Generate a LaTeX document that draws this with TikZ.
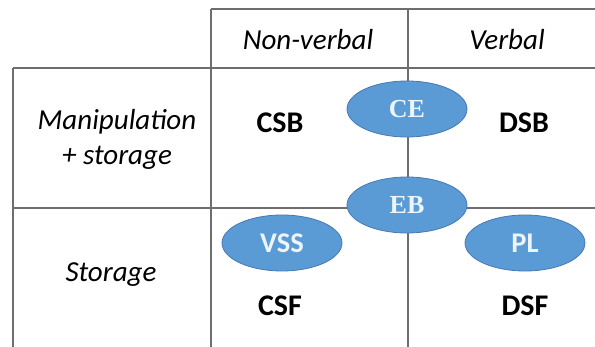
\documentclass[tikz,border=0pt]{standalone}
\usepackage{fontspec}
\setmainfont{Carlito}
\newfontfamily\ellserif{Liberation Serif}
\usetikzlibrary{shapes.geometric}
\definecolor{gridgray}{RGB}{110,110,110}
\definecolor{ellfill}{RGB}{91,155,213}
\definecolor{elldraw}{RGB}{70,120,180}
\definecolor{elltext}{RGB}{236,244,252}
\tikzset{
  gridline/.style={draw=gridgray, line width=1.6pt},
  hdr/.style={inner sep=0pt, font=\fontsize{29}{31}\selectfont\itshape},
  cell/.style={inner sep=0pt, font=\fontsize{30}{32}\selectfont\bfseries},
  comp/.style={ellipse, fill=ellfill, draw=elldraw, line width=0.8pt, inner sep=0pt,
    text=elltext, minimum width=120pt, minimum height=56pt},
  compserif/.style={comp, font=\ellserif\fontsize{26}{28}\selectfont\bfseries},
  compsans/.style={comp, font=\fontsize{28.5}{30}\selectfont\bfseries}
}
\begin{document}
\begin{tikzpicture}[x=1pt,y=-1pt]
\useasboundingbox[fill=white] (0,0) rectangle (595,347);
% grid coordinates
\coordinate (tl) at (211,9);
\coordinate (tr) at (595,9);
\coordinate (r1l) at (13,68);
\coordinate (r1r) at (595,68);
\coordinate (r2l) at (13,208);
\coordinate (r2r) at (595,208);
\coordinate (lb) at (13,347);
\coordinate (c1b) at (211,347);
\coordinate (c2t) at (408,9);
\coordinate (c2b) at (408,347);
% grid lines
\draw[gridline] (tl) -- (tr);
\draw[gridline] (r1l) -- (r1r);
\draw[gridline] (r2l) -- (r2r);
\draw[gridline] (r1l) -- (lb);
\draw[gridline] (tl) -- (c1b);
\draw[gridline] (c2t) -- (c2b);
% headers
\node[hdr] (nonverbal) at (308,40) {Non-verbal};
\node[hdr] (verbal) at (507,40) {Verbal};
\node[hdr] (manip) at (117,122) {Manipulation};
\node[hdr] (plusst) at (117,158) {+ storage};
\node[hdr] (storage) at (111,275) {Storage};
% cells
\node[cell] (csb) at (280,123) {CSB};
\node[cell] (dsb) at (524,123) {DSB};
\node[cell] (csf) at (280,306) {CSF};
\node[cell] (dsf) at (525,306) {DSF};
% components
\node[compserif] (ce) at (407,109) {CE};
\node[compserif] (eb) at (407,205) {EB};
\node[compsans] (vss) at (282,243) {VSS};
\node[compsans] (pl) at (525,243) {PL};
\end{tikzpicture}
\end{document}
